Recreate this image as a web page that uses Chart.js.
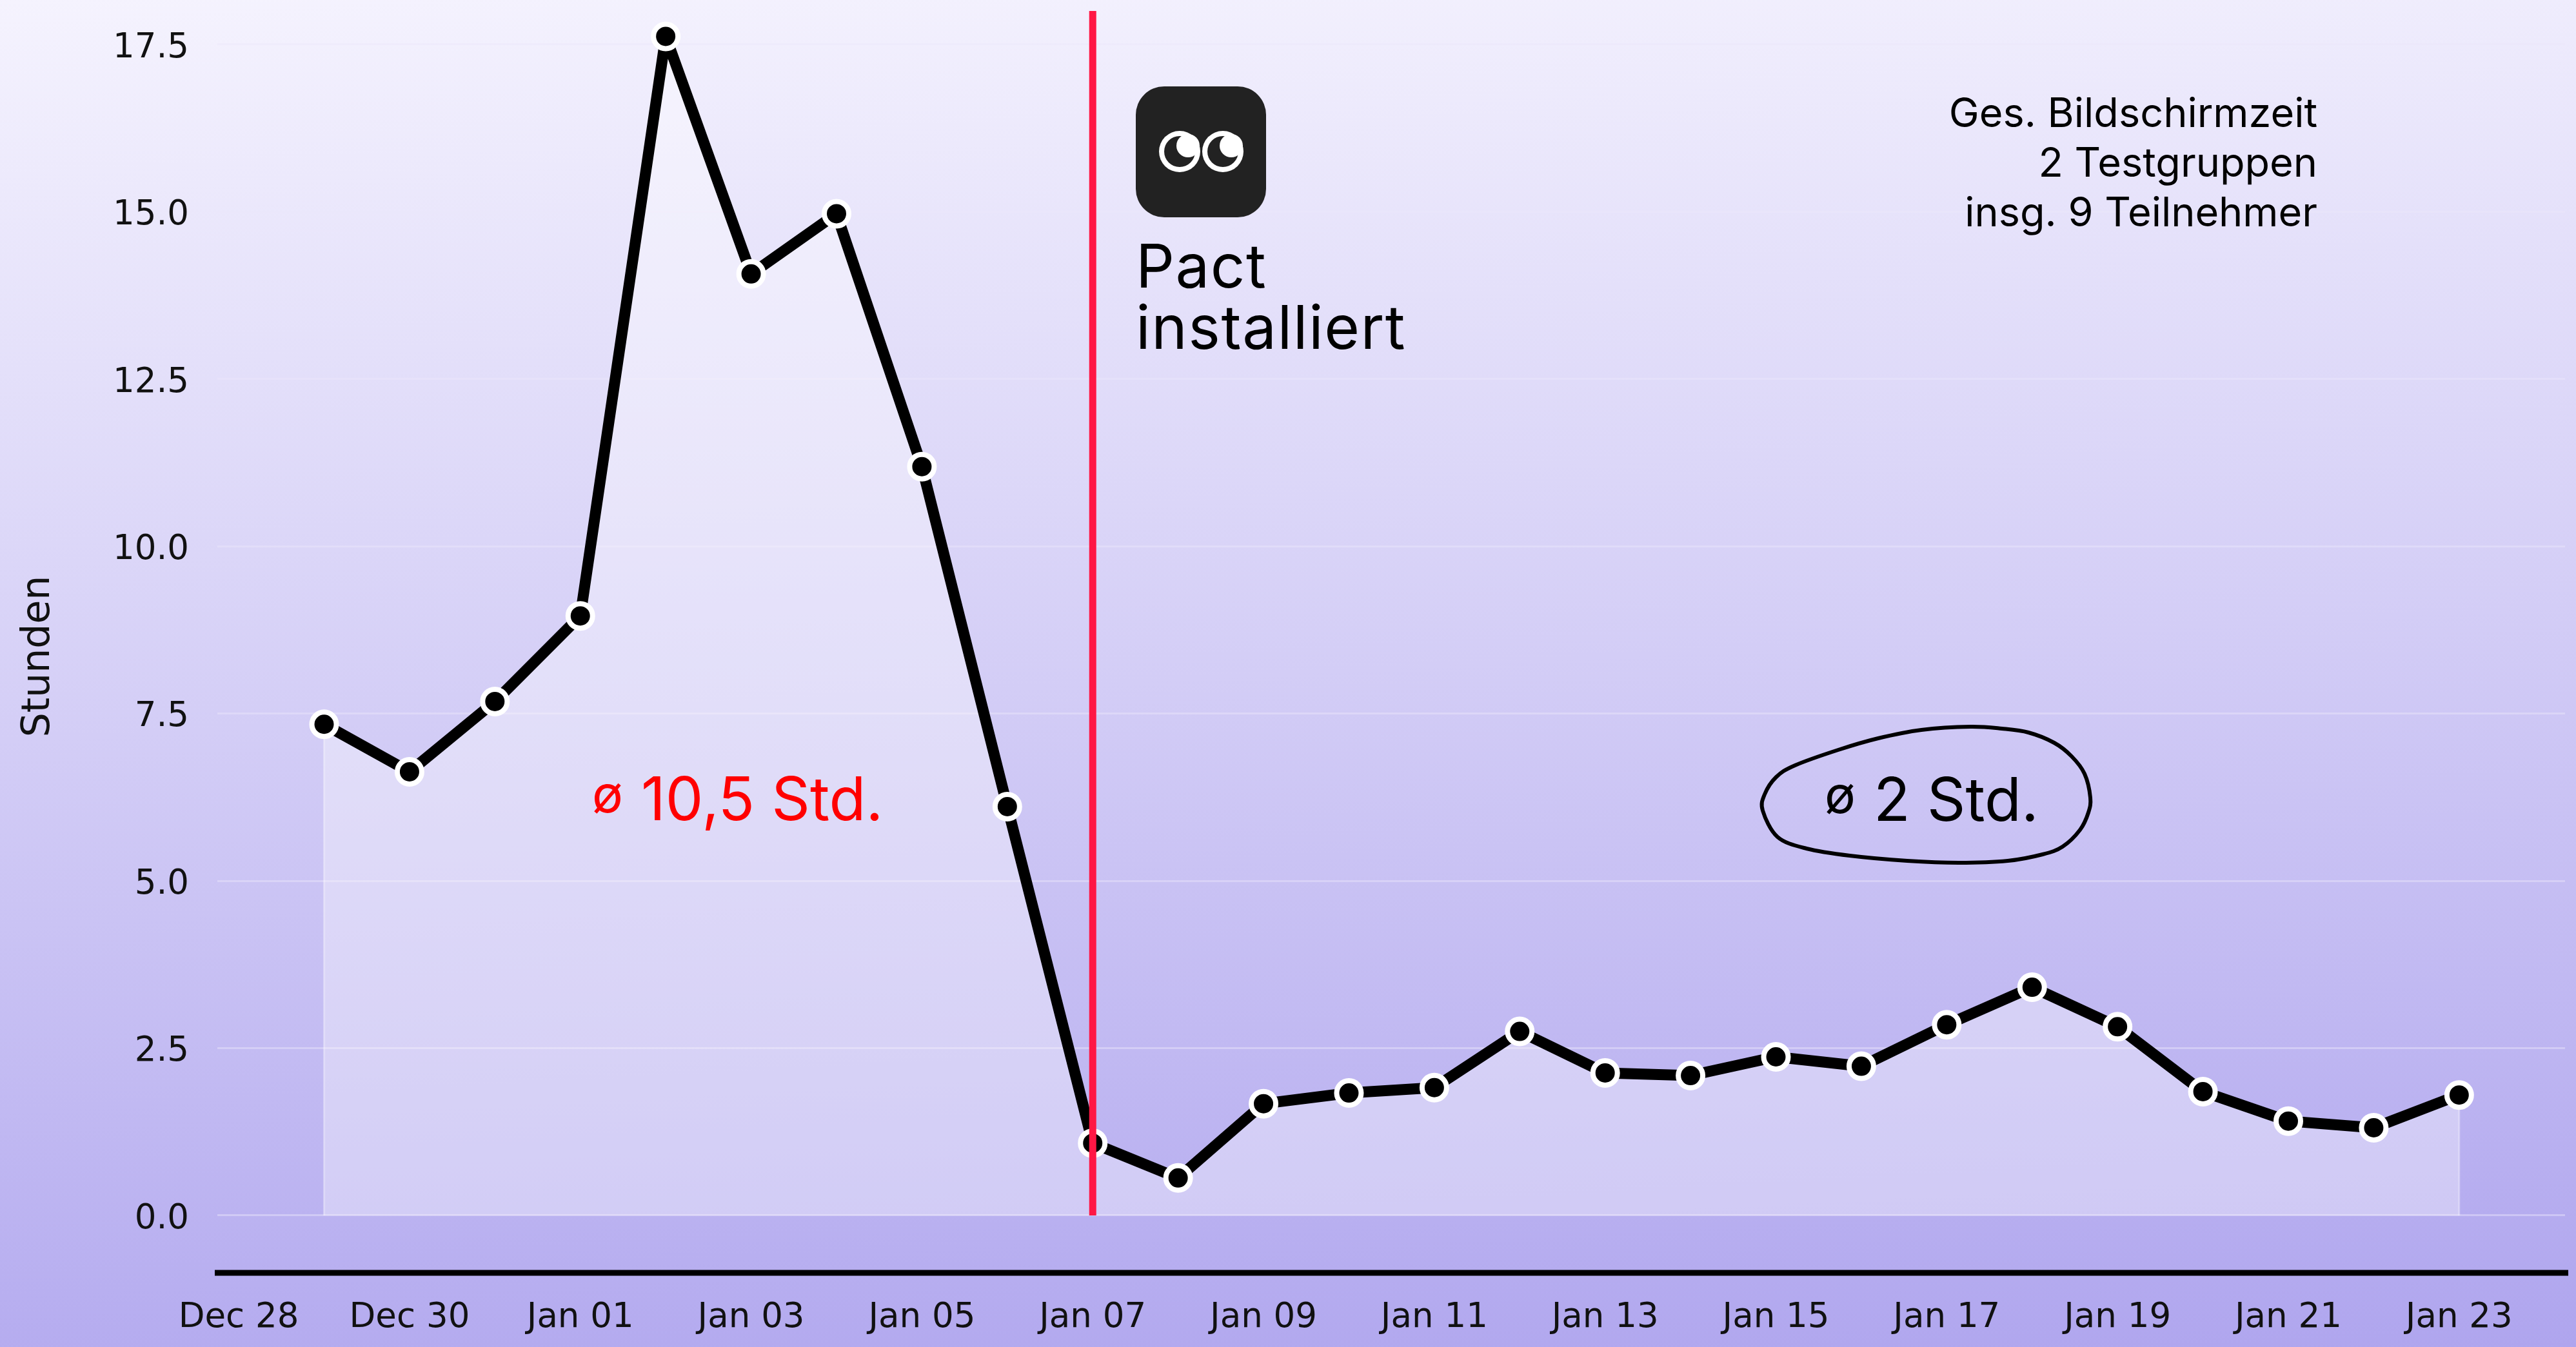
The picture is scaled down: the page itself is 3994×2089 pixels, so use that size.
<!DOCTYPE html>
<html>
<head>
<meta charset="utf-8">
<title>Bildschirmzeit</title>
<script src="https://cdn.jsdelivr.net/npm/chart.js@4"></script>
<style>
    html, body { margin: 0; padding: 0; }
    body { width: 3994px; height: 2089px; overflow: hidden; background: linear-gradient(177deg, #f5f3fe 0%, #d3cdf6 50%, #afa5ee 100%); }
    canvas { display: block; }
</style>
</head>
<body>
<canvas id="chart" width="3994" height="2089"></canvas>
<script>
// ---- Data ----
const dates = ['Dec 29', 'Dec 30', 'Dec 31', 'Jan 01', 'Jan 02', 'Jan 03', 'Jan 04', 'Jan 05', 'Jan 06', 'Jan 07',
    'Jan 08', 'Jan 09', 'Jan 10', 'Jan 11', 'Jan 12', 'Jan 13', 'Jan 14', 'Jan 15', 'Jan 16', 'Jan 17',
    'Jan 18', 'Jan 19', 'Jan 20', 'Jan 21', 'Jan 22', 'Jan 23'];
const hours = [7.34, 6.63, 7.68, 8.96, 17.62, 14.07, 14.97, 11.19, 6.11, 1.08,
    0.56, 1.67, 1.83, 1.91, 2.75, 2.13, 2.09, 2.37, 2.23, 2.85,
    3.41, 2.82, 1.85, 1.41, 1.31, 1.80];
const tickLabels = ['Dec 28', 'Dec 30', 'Jan 01', 'Jan 03', 'Jan 05', 'Jan 07', 'Jan 09', 'Jan 11',
    'Jan 13', 'Jan 15', 'Jan 17', 'Jan 19', 'Jan 21', 'Jan 23'];
const installDate = 'Jan 07';
const infoLines = ['Ges. Bildschirmzeit', '2 Testgruppen', 'insg. 9 Teilnehmer'];

// x values are days since Dec 28
const points = dates.map((d, i) => ({ x: i + 1, y: hours[i] }));

const TEXT_FONT = 'Inter, sans-serif';
const AXIS_FONT = '"DejaVu Sans"';

// outline around the "2 Std." note
const blob = [[3055, 1127], [3104, 1130], [3145, 1136], [3185, 1152], [3212, 1173], [3232, 1200], [3241, 1237], [3238, 1260],
    [3225, 1287], [3198, 1313], [3167, 1325], [3113, 1335], [3037, 1338], [2957, 1335], [2868, 1327], [2801, 1316],
    [2756, 1298], [2733, 1257], [2736, 1232], [2754, 1205], [2783, 1187], [2850, 1163], [2912, 1145], [2979, 1132]];

function drawBlob(ctx) {
    const n = blob.length;
    ctx.beginPath();
    for (let i = 0; i < n; i++) {
        const p0 = blob[(i + n - 1) % n], p1 = blob[i], p2 = blob[(i + 1) % n], p3 = blob[(i + 2) % n];
        if (i === 0) ctx.moveTo(p1[0], p1[1]);
        ctx.bezierCurveTo(
            p1[0] + (p2[0] - p0[0]) / 6, p1[1] + (p2[1] - p0[1]) / 6,
            p2[0] - (p3[0] - p1[0]) / 6, p2[1] - (p3[1] - p1[1]) / 6,
            p2[0], p2[1]);
    }
    ctx.closePath();
    ctx.lineWidth = 6;
    ctx.strokeStyle = '#000';
    ctx.stroke();
}

function drawEye(ctx, cx, cy) {
    ctx.fillStyle = '#fff';
    ctx.beginPath(); ctx.arc(cx, cy, 32, 0, Math.PI * 2); ctx.fill();
    ctx.fillStyle = '#222';
    ctx.beginPath(); ctx.arc(cx, cy, 24, 0, Math.PI * 2); ctx.fill();
    ctx.fillStyle = '#fff';
    ctx.beginPath(); ctx.arc(cx + 13, cy - 9, 18, 0, Math.PI * 2); ctx.fill();
}

function drawIcon(ctx) {
    ctx.fillStyle = '#222';
    ctx.beginPath();
    ctx.roundRect(1761, 134, 202, 203, 44);
    ctx.fill();
    drawEye(ctx, 1829, 235);
    drawEye(ctx, 1896, 235);
}

// small diameter sign, then the note itself
function drawNote(ctx, text, signX, textX, baseline, color) {
    ctx.fillStyle = color;
    ctx.font = '80px ' + TEXT_FONT;
    ctx.fillText('ø', signX, baseline - 12);
    ctx.font = '93px ' + TEXT_FONT;
    ctx.fillText(text, textX, baseline);
}

// ---- Everything that is not a series: spine, red line, notes ----
const annotations = {
    id: 'annotations',
    beforeDatasetsDraw(chart) {
        const { ctx, scales: { x, y } } = chart;
        // thin white edges of the area under the line
        ctx.save();
        ctx.strokeStyle = 'rgba(255,255,255,0.35)';
        ctx.lineWidth = 3;
        for (const p of [points[0], points[points.length - 1]]) {
            ctx.beginPath();
            ctx.moveTo(x.getPixelForValue(p.x), y.getPixelForValue(p.y));
            ctx.lineTo(x.getPixelForValue(p.x), y.getPixelForValue(0));
            ctx.stroke();
        }
        ctx.restore();
    },
    afterDatasetsDraw(chart) {
        const { ctx, chartArea, scales: { x, y } } = chart;
        ctx.save();

        // red marker where Pact was installed
        const installX = x.getPixelForValue(dates.indexOf(installDate) + 1);
        ctx.strokeStyle = '#ff1744';
        ctx.lineWidth = 11;
        ctx.beginPath();
        ctx.moveTo(installX, chartArea.top);
        ctx.lineTo(installX, y.getPixelForValue(0));
        ctx.stroke();

        // bottom spine
        ctx.strokeStyle = '#000';
        ctx.lineWidth = 9;
        ctx.beginPath();
        ctx.moveTo(chartArea.left - 4, chartArea.bottom);
        ctx.lineTo(chartArea.right + 5, chartArea.bottom);
        ctx.stroke();

        drawIcon(ctx);
        drawBlob(ctx);

        ctx.textBaseline = 'alphabetic';
        ctx.fillStyle = '#000';
        ctx.textAlign = 'left';
        ctx.letterSpacing = '1.5px';
        ctx.font = '94px ' + TEXT_FONT;
        ctx.fillText('Pact', 1761, 446);
        ctx.fillText('installiert', 1761, 541);
        ctx.letterSpacing = '0px';

        drawNote(ctx, '2 Std.', 2829, 2905, 1273, '#000');
        drawNote(ctx, '10,5 Std.', 918, 994, 1272, '#ff0000');

        ctx.fillStyle = '#000';
        ctx.textAlign = 'right';
        ctx.font = '63px ' + TEXT_FONT;
        infoLines.forEach((line, i) => ctx.fillText(line, 3593, 197 + i * 77));

        // y axis title
        ctx.translate(60, 1018);
        ctx.rotate(-Math.PI / 2);
        ctx.textAlign = 'center';
        ctx.textBaseline = 'middle';
        ctx.fillStyle = '#111';
        ctx.font = '60px ' + AXIS_FONT;
        ctx.fillText('Stunden', 0, 0);

        ctx.restore();
    }
};

// ---- Config ----
const config = {
    type: 'line',
    data: {
        datasets: [{
            data: points,
            borderColor: '#000',
            borderWidth: 17,
            borderJoinStyle: 'round',
            backgroundColor: 'rgba(255,255,255,0.35)',
            fill: 'origin',
            tension: 0,
            pointRadius: 19,
            pointBorderWidth: 8,
            pointBackgroundColor: '#000',
            pointBorderColor: '#fff',
            clip: false
        }]
    },
    options: {
        responsive: false,
        animation: false,
        devicePixelRatio: 1,
        layout: { autoPadding: false, padding: { top: 17, right: 17, left: 0, bottom: 0 } },
        plugins: { legend: { display: false }, tooltip: { enabled: false } },
        scales: {
            x: {
                type: 'linear',
                min: -0.25,
                max: 27.24,
                afterFit: (scale) => { scale.height = 115; scale.paddingLeft = 0; scale.paddingRight = 0; },
                grid: { display: false },
                border: { display: false },
                ticks: {
                    stepSize: 2,
                    includeBounds: false,
                    autoSkip: false,
                    maxRotation: 0,
                    padding: 30,
                    color: '#111',
                    font: { family: AXIS_FONT, size: 53 },
                    callback: (v) => tickLabels[v / 2]
                }
            },
            y: {
                min: -0.858,
                max: 18,
                afterFit: (scale) => { scale.width = 337; scale.paddingTop = 0; scale.paddingBottom = 0; },
                // labels sit a little below their grid lines in the original
                afterUpdate: (scale) => {
                    const drawLabels = scale.drawLabels;
                    scale.drawLabels = function (area) {
                        this.ctx.save();
                        this.ctx.translate(0, 3);
                        drawLabels.call(this, area);
                        this.ctx.restore();
                    };
                },
                grid: { color: 'rgba(235,230,250,0.45)', lineWidth: 3, drawTicks: false },
                border: { display: false },
                ticks: {
                    stepSize: 2.5,
                    includeBounds: false,
                    padding: 44,
                    color: '#111',
                    font: { family: AXIS_FONT, size: 53 },
                    callback: (v) => v.toFixed(1)
                }
            }
        }
    },
    plugins: [annotations]
};

// ---- Create chart ----
const chart = new Chart(document.getElementById('chart').getContext('2d'), config);
</script>
</body>
</html>
